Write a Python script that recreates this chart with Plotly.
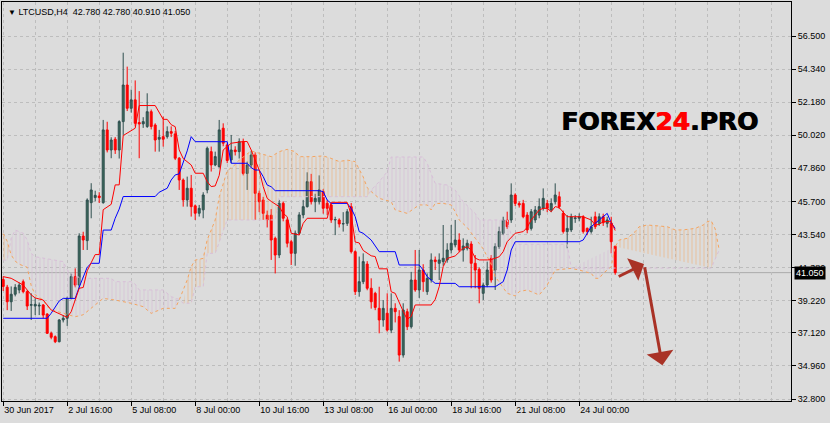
import plotly.graph_objects as go

# ---------------- data ----------------
opens = [40.60, 40.10, 39.15, 39.64, 39.92, 40.46, 39.81, 38.92, 38.87, 38.87,
         38.94, 38.35, 37.09, 36.87, 36.54, 37.96, 38.07, 39.37, 40.79, 40.24,
         43.44, 43.14, 45.62, 45.95, 46.05, 45.62, 50.37, 49.06, 49.76, 49.06,
         50.91, 53.30, 51.78, 52.33, 50.85, 50.76, 50.59, 51.56, 50.69, 49.76,
         49.93, 49.93, 50.26, 50.11, 48.52, 47.10, 45.80, 46.56, 45.41, 44.93,
         45.15, 46.45, 48.95, 48.08, 47.97, 50.48, 49.39, 48.41, 49.06, 48.95,
         49.60, 47.53, 48.08, 48.73, 46.23, 45.79, 44.80, 44.80, 43.29, 42.20,
         45.58, 44.49, 43.07, 42.31, 43.62, 44.82, 45.36, 46.99, 45.68, 45.68,
         46.34, 45.58, 45.47, 44.49, 44.49, 44.23, 44.27, 45.36, 42.42, 39.81,
         40.46, 41.61, 40.03, 39.70, 38.72, 37.96, 38.40, 37.30, 38.72, 38.18,
         35.67, 38.50, 37.52, 40.57, 39.92, 41.22, 39.81, 40.57, 41.88, 41.66,
         41.77, 41.88, 42.53, 42.86, 43.18, 42.53, 42.64, 42.92, 41.66, 41.27,
         39.70, 40.24, 41.99, 41.22, 42.75, 43.62, 44.49, 44.49, 46.12, 45.57,
         45.57, 44.81, 43.94, 44.49, 44.81, 45.25, 45.57, 45.14, 45.68, 46.01,
         44.92, 43.73, 43.84, 44.58, 44.60, 44.70, 43.94, 43.73, 44.70, 44.27,
         44.70, 44.27, 44.27, 42.78]
highs = [40.80, 40.25, 40.15, 40.30, 40.40, 40.60, 39.90, 39.70, 39.37, 39.10,
         39.00, 38.40, 37.20, 36.95, 38.02, 38.28, 39.48, 41.00, 41.33, 43.62,
         43.72, 45.90, 46.89, 46.40, 46.30, 51.02, 50.90, 49.89, 49.90, 51.00,
         55.41, 54.50, 53.00, 53.60, 52.90, 51.20, 52.76, 51.70, 50.80, 50.37,
         51.24, 50.60, 50.60, 50.30, 48.60, 47.20, 47.32, 47.43, 45.50, 45.47,
         46.30, 49.28, 49.28, 48.95, 51.02, 50.80, 49.50, 50.04, 49.30, 49.82,
         49.80, 48.30, 49.00, 48.90, 46.40, 46.00, 45.10, 45.20, 43.40, 45.80,
         45.70, 44.60, 43.20, 43.80, 45.00, 45.80, 47.60, 47.50, 46.20, 47.40,
         46.50, 45.80, 45.60, 44.70, 44.60, 45.00, 45.20, 45.60, 42.50, 42.10,
         42.31, 41.80, 40.68, 39.80, 40.13, 39.26, 39.70, 39.70, 39.05, 38.60,
         39.05, 38.70, 41.10, 42.53, 42.53, 41.60, 41.00, 42.31, 42.10, 42.31,
         44.16, 42.97, 44.16, 44.49, 43.62, 43.29, 43.20, 43.10, 42.20, 41.40,
         40.40, 41.77, 42.20, 42.97, 44.05, 44.70, 45.03, 46.88, 46.23, 45.70,
         45.80, 45.00, 45.20, 45.40, 45.90, 46.55, 45.80, 45.90, 46.88, 46.34,
         45.10, 44.81, 44.90, 44.80, 44.92, 44.80, 44.00, 44.70, 45.03, 44.92,
         44.90, 44.70, 44.70, 42.78]
lows = [39.85, 38.60, 38.55, 39.50, 39.70, 39.70, 38.61, 37.96, 38.28, 38.28,
        38.07, 37.05, 36.70, 36.45, 36.50, 37.80, 37.57, 39.30, 40.09, 40.00,
        42.53, 42.53, 44.60, 45.70, 45.60, 45.55, 48.90, 48.52, 48.80, 48.50,
        50.04, 51.60, 51.50, 50.60, 48.52, 50.50, 50.50, 50.40, 48.95, 48.95,
        49.28, 49.80, 49.90, 48.40, 46.45, 45.36, 45.36, 44.71, 44.49, 44.71,
        44.60, 46.23, 47.65, 48.00, 47.90, 49.30, 48.20, 48.20, 48.70, 48.50,
        47.40, 46.45, 47.90, 44.49, 45.00, 44.50, 44.00, 41.88, 41.00, 42.00,
        44.40, 42.70, 41.55, 41.50, 43.50, 44.60, 45.30, 45.50, 45.00, 45.50,
        44.90, 44.80, 44.30, 43.50, 44.00, 43.73, 44.10, 42.30, 39.59, 39.48,
        40.30, 39.90, 38.70, 38.60, 37.09, 37.52, 37.20, 37.10, 37.80, 35.24,
        35.50, 37.30, 37.40, 39.80, 39.40, 39.80, 39.60, 40.40, 41.22, 40.57,
        41.50, 41.70, 42.30, 42.70, 42.40, 41.77, 42.50, 40.03, 40.03, 39.05,
        39.26, 40.10, 40.40, 39.92, 42.60, 43.50, 43.90, 44.30, 45.40, 45.30,
        44.60, 43.62, 43.80, 44.30, 44.60, 45.10, 45.00, 45.00, 45.50, 45.20,
        43.60, 42.64, 43.70, 44.30, 44.40, 43.60, 43.50, 43.60, 43.90, 44.10,
        44.10, 44.00, 42.31, 40.91]
closes = [40.15, 39.15, 39.64, 40.09, 40.24, 39.81, 38.87, 38.96, 38.98, 38.92,
          38.28, 37.09, 36.83, 36.54, 37.96, 38.07, 39.37, 40.79, 40.24, 43.44,
          43.18, 45.79, 46.45, 46.10, 45.95, 50.37, 49.06, 49.71, 49.06, 50.91,
          53.30, 51.78, 52.33, 50.80, 50.76, 50.91, 51.56, 50.59, 49.71, 49.89,
          49.76, 50.26, 50.15, 48.52, 47.10, 45.80, 46.56, 45.36, 44.93, 45.25,
          46.12, 49.17, 48.08, 48.63, 50.37, 49.50, 48.37, 49.06, 48.95, 49.61,
          47.53, 48.08, 48.73, 46.23, 45.68, 44.92, 44.49, 43.18, 42.20, 45.58,
          44.60, 42.97, 42.31, 43.62, 44.82, 45.36, 46.99, 45.68, 45.90, 46.45,
          45.25, 45.25, 44.49, 44.52, 44.23, 44.25, 45.03, 42.42, 39.81, 40.46,
          41.77, 40.03, 39.15, 38.78, 37.96, 38.72, 37.30, 38.72, 38.50, 35.67,
          38.61, 37.52, 40.57, 39.92, 41.22, 40.46, 40.68, 41.88, 41.77, 41.88,
          41.99, 42.53, 42.97, 43.18, 42.53, 42.79, 42.97, 41.66, 41.22, 40.03,
          40.24, 41.22, 40.57, 42.75, 43.73, 44.49, 44.05, 46.12, 45.57, 45.47,
          44.70, 43.84, 45.03, 45.14, 45.36, 45.90, 45.25, 45.57, 46.12, 45.36,
          43.73, 43.94, 44.70, 44.62, 44.70, 43.73, 43.73, 44.05, 44.05, 44.70,
          44.31, 44.49, 43.07, 41.05]

# Ichimoku lines: (bar index, price) vertices
tenkan_x = [0, 2, 5, 7, 8, 10, 12, 16, 17, 19, 20, 21, 22, 23, 24, 25, 27, 28, 29, 30,
            33, 34, 38, 39, 40, 41, 42, 43, 44, 45, 46, 47, 48, 50, 51, 52, 53, 54, 55, 56,
            57, 60, 61, 62, 63, 64, 65, 66, 67, 69, 70, 71, 72, 74, 75, 76, 81, 82, 86, 87,
            88, 89, 90, 92, 93, 94, 96, 97, 98, 99, 100, 101, 102, 103, 107, 108, 109, 110, 111, 113,
            114, 115, 116, 117, 118, 119, 121, 122, 124, 125, 126, 128, 130, 131, 132, 134, 135, 136, 137, 138,
            139, 140, 141, 145, 146, 147, 148, 149, 150, 152, 153]
tenkan_y = [40.79, 40.68, 40.24, 39.60, 39.40, 39.26, 38.61, 38.13, 38.50, 40.03, 40.08, 41.17, 41.70, 42.23, 42.23, 45.16, 45.51, 46.78, 46.78, 50.00,
            50.48, 51.96, 51.96, 51.51, 51.06, 51.06, 50.71, 50.58, 49.06, 48.50, 48.30, 48.08, 47.54, 47.54, 46.99, 46.67, 46.71, 47.40, 49.06, 49.28,
            49.50, 49.61, 49.61, 49.06, 48.41, 47.75, 46.67, 45.90, 45.70, 45.36, 44.92, 44.70, 43.62, 43.51, 44.27, 44.60, 44.60, 45.64, 45.64, 44.85,
            43.05, 42.99, 42.50, 42.15, 42.10, 41.30, 41.30, 39.80, 39.70, 39.05, 38.52, 38.00, 38.20, 38.94, 38.94, 39.30, 40.13, 41.44, 41.98, 42.14,
            42.40, 42.64, 42.75, 42.53, 42.00, 41.88, 41.88, 41.90, 42.09, 42.42, 43.07, 43.62, 43.73, 44.00, 44.49, 45.14, 45.25, 45.25, 45.03, 45.36,
            45.30, 45.00, 44.70, 44.70, 44.60, 44.49, 44.16, 44.20, 44.38, 44.38, 43.80]

kijun_x = [0, 11, 12, 14, 15, 18, 19, 21, 22, 24, 25, 27, 28, 29, 30, 38, 39, 41, 42, 43,
           44, 45, 46, 47, 48, 56, 57, 61, 62, 63, 64, 65, 66, 67, 68, 79, 80, 81, 82, 86,
           87, 88, 89, 90, 91, 92, 94, 98, 99, 104, 105, 106, 107, 108, 113, 114, 123, 125, 126, 127,
           128, 144, 145, 146, 147, 149, 150, 151, 152, 153]
kijun_y = [38.07, 38.07, 38.40, 39.20, 39.37, 39.37, 40.10, 41.40, 41.66, 41.66, 43.83, 43.83, 44.60, 45.20, 46.02, 46.02, 46.30, 46.56, 47.10, 47.43,
           47.50, 48.20, 49.00, 49.93, 49.60, 49.60, 48.19, 48.19, 47.90, 47.75, 47.75, 47.32, 46.77, 46.66, 46.40, 46.40, 46.34, 45.79, 45.57, 45.57,
           45.25, 44.71, 43.73, 43.62, 43.40, 43.18, 42.42, 42.42, 41.55, 41.55, 41.22, 40.79, 40.57, 40.35, 40.35, 40.13, 40.13, 40.46, 41.22, 42.53,
           43.07, 43.07, 43.18, 43.62, 44.05, 44.49, 44.70, 44.92, 44.30, 43.94]

span_a_x = [0, 1, 2, 3, 4, 6, 7, 8, 10, 11, 13, 15, 18, 20, 22, 25, 28, 32, 35, 37,
            40, 43, 44, 46, 47, 48, 50, 51, 52, 53, 54, 56, 58, 59, 62, 64, 67, 69, 71, 73,
            74, 77, 80, 82, 84, 86, 88, 90, 91, 92, 94, 97, 98, 101, 103, 104, 106, 107, 108, 110,
            112, 113, 114, 116, 118, 120, 122, 123, 126, 128, 129, 131, 133, 134, 136, 138, 142, 144, 147, 148,
            149, 150, 152, 153, 154, 156, 158, 159, 161, 166, 168, 170, 173, 175, 176, 177, 178, 179]
span_a_y = [43.60, 43.10, 42.20, 41.80, 41.60, 41.40, 40.20, 39.60, 39.26, 38.83, 38.55, 38.40, 38.17, 38.30, 38.72, 39.37, 39.26, 39.05, 38.83, 38.39,
            38.72, 38.72, 39.26, 40.57, 41.44, 41.87, 41.98, 43.20, 43.83, 44.49, 46.00, 47.70, 48.10, 48.40, 49.00, 48.84, 48.62, 48.95, 49.10, 48.95,
            48.62, 48.62, 48.67, 48.51, 48.30, 48.40, 48.30, 47.30, 46.60, 46.34, 45.90, 45.68, 45.14, 44.92, 45.25, 45.47, 45.47, 45.14, 45.57, 45.57,
            45.47, 45.03, 44.49, 44.00, 43.30, 42.60, 41.60, 40.79, 39.70, 39.53, 39.81, 39.92, 39.70, 39.59, 40.24, 41.22, 41.33, 41.22, 41.00, 40.68,
            40.68, 41.00, 41.44, 42.75, 43.18, 43.29, 43.73, 44.05, 44.16, 44.05, 43.84, 43.84, 43.94, 44.16, 44.38, 44.44, 43.90, 42.53]

span_b_x = [0, 1, 2, 3, 5, 6, 7, 8, 15, 16, 18, 21, 27, 28, 32, 33, 34, 40, 42, 44,
            45, 47, 48, 50, 51, 53, 56, 68, 69, 91, 92, 94, 96, 97, 105, 106, 107, 108, 111, 113,
            115, 118, 119, 126, 127, 128, 141, 142, 177, 178, 179]
span_b_y = [41.87, 41.87, 43.30, 43.83, 43.62, 43.18, 42.31, 42.09, 41.77, 41.22, 40.79, 40.68, 40.68, 40.46, 40.46, 40.30, 39.92, 39.92, 39.48, 39.30,
            39.05, 39.05, 40.13, 40.13, 42.31, 42.31, 44.49, 44.49, 46.01, 46.01, 46.44, 46.99, 47.64, 48.60, 48.60, 48.20, 47.50, 46.88, 46.77, 46.44,
            45.68, 44.92, 44.49, 44.49, 43.50, 42.90, 42.90, 41.35, 41.35, 41.98, 42.53]

# cloud stretches: (first bar, last bar, which span is on top)
cloud_segments = [(0, 2, "A"), (2, 45, "B"), (45, 92, "A"), (92, 153, "B"), (153, 179, "A")]

x_tick_bars = [0, 16, 32, 48, 64, 80, 96, 112, 128, 144]
x_tick_labels = ["30 Jun 2017", "2 Jul 16:00", "5 Jul 08:00", "8 Jul 00:00", "10 Jul 16:00",
                 "13 Jul 08:00", "16 Jul 00:00", "18 Jul 16:00", "21 Jul 08:00", "24 Jul 00:00"]
y_tick_labels = ["56.500", "54.340", "52.180", "50.020", "47.860", "45.700",
                 "43.540", "41.380", "39.220", "37.120", "34.960", "32.800"]
last_price = 41.05
last_price_label = "41.050"
symbol_text = "LTCUSD,H4\u00a0\u00a042.780 42.780 40.910 41.050"

# ---------------- styling ----------------
BG = "#DCDCDC"
GRID = "#BDBDBD"
ORANGE = "#F4A460"
THISTLE = "#D8BFD8"
FONT = "Liberation Sans, Arial, sans-serif"

x_bars = list(range(len(opens)))
fig = go.Figure()


def stretch(xs, ys, a, b):
    pts = [(x, y) for x, y in zip(xs, ys) if a <= x <= b]
    return [p[0] for p in pts], [p[1] for p in pts]


for a, b, top in cloud_segments:
    bx, by = stretch(span_b_x, span_b_y, a, b)
    axx, ayy = stretch(span_a_x, span_a_y, a, b)
    col = ORANGE if top == "A" else THISTLE
    opac = 0.6 if top == "A" else 0.8
    fig.add_trace(go.Scatter(x=bx, y=by, mode="lines", line=dict(width=0),
                             hoverinfo="skip", showlegend=False))
    fig.add_trace(go.Scatter(x=axx, y=ayy, mode="lines", line=dict(width=0),
                             fill="tonexty", fillcolor="rgba(0,0,0,0)",
                             fillpattern=dict(shape="|", fgcolor=col, bgcolor="rgba(0,0,0,0)",
                                              size=4, solidity=0.22, fgopacity=opac),
                             hoverinfo="skip", showlegend=False))

fig.add_trace(go.Scatter(x=span_a_x, y=span_a_y, mode="lines",
                         line=dict(color=ORANGE, width=1, dash="dot"), showlegend=False))
fig.add_trace(go.Scatter(x=span_b_x, y=span_b_y, mode="lines",
                         line=dict(color=THISTLE, width=1, dash="dot"), showlegend=False))

fig.add_trace(go.Candlestick(
    x=x_bars, open=opens, high=highs, low=lows, close=closes,
    increasing=dict(line=dict(color="#2F4F4F", width=1), fillcolor="#3A6A5A"),
    decreasing=dict(line=dict(color="#FF0000", width=1), fillcolor="#FF0000"),
    whiskerwidth=0, showlegend=False, hoverinfo="skip"))

fig.add_trace(go.Scatter(x=kijun_x, y=kijun_y, mode="lines",
                         line=dict(color="#0000FF", width=1), showlegend=False))
fig.add_trace(go.Scatter(x=tenkan_x, y=tenkan_y, mode="lines",
                         line=dict(color="#FF0000", width=1), showlegend=False))

fig.add_shape(type="line", xref="paper", x0=0, x1=1, yref="y", y0=last_price, y1=last_price,
              line=dict(color="#ABABAB", width=1), layer="below")

logo_text = "<b>FOREX<span style='color:#FF0000'>24</span>.PRO</b>"
annotations = [
    dict(xref="paper", yref="paper", x=0, y=1, xanchor="left", yanchor="top", xshift=4, yshift=-3,
         text="<span style='font-size:8px'>\u25bc</span> " + symbol_text, showarrow=False,
         font=dict(family=FONT, size=9, color="black")),
    dict(xref="paper", yref="y", x=1, y=last_price, xanchor="left", yanchor="middle", xshift=3,
         text=last_price_label, showarrow=False, bgcolor="black", borderpad=1,
         font=dict(family=FONT, size=9, color="white")),
]
for dx in (0, 1):
    annotations.append(
        dict(xref="paper", yref="paper", x=0.833, y=0.70, xanchor="center", yanchor="middle",
             xshift=dx, text=logo_text, showarrow=False,
             font=dict(family="DejaVu Sans, Arial Black, sans-serif", size=25, color="black")))
annotations += [
    dict(xref="x", yref="y", axref="x", ayref="y", x=160.2, y=41.62, ax=153.5, ay=40.75,
         text="", showarrow=True, arrowhead=1, arrowsize=1.4, arrowwidth=3,
         arrowcolor="#A93226", standoff=0),
    dict(xref="x", yref="y", axref="x", ayref="y", x=164.8, y=35.0, ax=160.3, ay=41.5,
         text="", showarrow=True, arrowhead=1, arrowsize=1.5, arrowwidth=3,
         arrowcolor="#A93226", standoff=0),
]

fig.update_layout(
    width=830, height=423,
    margin=dict(l=2, r=39, t=2, b=22),
    paper_bgcolor=BG, plot_bgcolor=BG,
    font=dict(family=FONT, size=9, color="black"),
    showlegend=False,
    annotations=annotations,
    xaxis=dict(
        range=[-0.3, 196.95], rangeslider=dict(visible=False),
        tickmode="array", tickvals=x_tick_bars, ticktext=x_tick_labels,
        ticks="outside", ticklen=4, tickcolor="black", ticklabelposition="outside right",
        showline=True, linecolor="black", linewidth=1, mirror=True,
        showgrid=True, gridcolor=GRID, griddash="3px,3px", gridwidth=1, zeroline=False,
        minor=dict(tickmode="linear", tick0=0, dtick=8, showgrid=True, gridcolor=GRID,
                   griddash="3px,3px", ticks=""),
        fixedrange=True,
    ),
    yaxis=dict(
        side="right", range=[32.67, 58.72],
        tickmode="array", tickvals=[float(t) for t in y_tick_labels], ticktext=y_tick_labels,
        ticks="outside", ticklen=4, tickcolor="black",
        showline=True, linecolor="black", linewidth=1, mirror=True,
        showgrid=True, gridcolor=GRID, griddash="3px,3px", gridwidth=1, zeroline=False,
        fixedrange=True,
    ),
)

fig.write_html("out.html", config={"displayModeBar": False},
               post_script="document.body.style.margin='0px';document.body.style.padding='0px';"
                           "document.body.style.background='" + BG + "';")
